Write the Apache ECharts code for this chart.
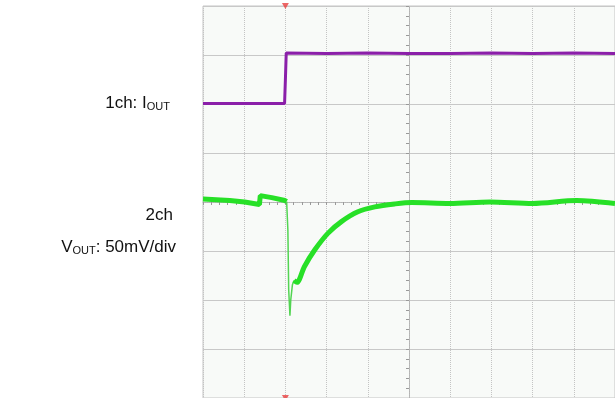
<!DOCTYPE html>
<html lang="en">
<head>
    <meta charset="UTF-8">
    <title>IOUT / VOUT transient</title>
    <style>
        html, body {
            margin: 0;
            padding: 0;
            width: 100%;
            height: 100%;
            background: #fff;
        }
        #scope {
            width: 615px;
            height: 398px;
        }
    </style>
</head>
<body>
<div id="scope"></div>
<script src="https://cdn.jsdelivr.net/npm/echarts@6/dist/echarts.min.js"></script>
<script type="text/javascript">
    // x in horizontal divisions (-5..5), y in vertical divisions (-4..4)
    var ch1Time = [-5, -4, -3.02, -3.0, -2.98, -2, -1, 0, 1, 2, 3, 4, 5];
    var ch1Level = [2.01, 2.01, 2.01, 2.5, 3.04, 3.03, 3.04, 3.03, 3.03, 3.04, 3.03, 3.04, 3.03];

    var ch2Time = [-5, -4.35, -3.99, -3.63, -3.61, -3.33, -3.01, -2.97];
    var ch2Level = [0.06, 0.03, 0.0, -0.05, 0.13, 0.09, 0.03, 0.01];

    var spikeTime = [-2.97, -2.94, -2.92, -2.89, -2.87, -2.83, -2.79];
    var spikeLevel = [0.01, -0.57, -1.79, -2.32, -2.0, -1.69, -1.6];

    var recTime = [-2.79, -2.72, -2.54, -2.29, -1.97, -1.64, -1.24, -0.83, -0.35, 0.07, 0.99, 1.96, 3.0, 4.07, 5];
    var recLevel = [-1.6, -1.64, -1.32, -0.98, -0.64, -0.4, -0.2, -0.1, -0.04, -0.01, -0.03, 0.0, -0.03, 0.03, -0.03];

    var trigTime = -3;

    function pairs(xs, ys) {
        var out = [];
        for (var i = 0; i < xs.length; i++) {
            out.push([xs[i], ys[i]]);
        }
        return out;
    }

    var labelFont = { fontFamily: 'Liberation Sans', fontSize: 17, fill: '#111' };
    var subFont = { fontFamily: 'Liberation Sans', fontSize: 11, fill: '#111', padding: [7, 0, 0, 0] };

    var myChart = echarts.init(document.getElementById('scope'));

    var option = {
        backgroundColor: '#ffffff',
        animation: false,
        grid: {
            left: 203,
            top: 6,
            width: 412,
            height: 393,
            show: true,
            backgroundColor: '#f8faf8',
            borderColor: '#c4c4c4',
            borderWidth: 1
        },
        xAxis: {
            type: 'value',
            min: -5,
            max: 5,
            interval: 1,
            axisLabel: { show: false },
            axisLine: { onZero: true, lineStyle: { color: '#b4b4b4', type: 'dotted', width: 1 } },
            axisTick: { show: true, length: 3, lineStyle: { color: '#999' } },
            minorTick: { show: true, splitNumber: 5, length: 3, lineStyle: { color: '#999' } },
            splitLine: { show: true, lineStyle: { color: '#c4c4c4', type: 'dotted', width: 1 } }
        },
        yAxis: {
            type: 'value',
            min: -4,
            max: 4,
            interval: 1,
            axisLabel: { show: false },
            axisLine: { onZero: true, lineStyle: { color: '#b4b4b4', type: 'dotted', width: 1 } },
            axisTick: { show: true, length: 3, lineStyle: { color: '#999' } },
            minorTick: { show: true, splitNumber: 5, length: 3, lineStyle: { color: '#999' } },
            splitLine: { show: true, lineStyle: { color: '#c8c8c8', type: 'solid', width: 1 } }
        },
        graphic: [
            {
                type: 'text',
                x: 170,
                y: 103,
                style: {
                    text: '{a|1ch: I}{s|OUT}',
                    align: 'right',
                    verticalAlign: 'middle',
                    rich: { a: labelFont, s: subFont }
                }
            },
            {
                type: 'text',
                x: 173,
                y: 215,
                style: {
                    text: '{a|2ch}',
                    align: 'right',
                    verticalAlign: 'middle',
                    rich: { a: labelFont }
                }
            },
            {
                type: 'text',
                x: 176,
                y: 247,
                style: {
                    text: '{a|V}{s|OUT}{a|: 50mV/div}',
                    align: 'right',
                    verticalAlign: 'middle',
                    rich: { a: labelFont, s: subFont }
                }
            }
        ],
        series: [
            {
                name: 'ch1',
                type: 'line',
                data: pairs(ch1Time, ch1Level),
                symbol: 'none',
                lineStyle: { color: '#8b1fa9', width: 3 },
                z: 3
            },
            {
                name: 'ch2',
                type: 'line',
                data: pairs(ch2Time, ch2Level),
                symbol: 'none',
                lineStyle: { color: '#27e027', width: 5 },
                z: 4
            },
            {
                name: 'ch2 spike',
                type: 'line',
                data: pairs(spikeTime, spikeLevel),
                symbol: 'none',
                lineStyle: { color: '#52d452', width: 1.5 },
                z: 4
            },
            {
                name: 'ch2 recovery',
                type: 'line',
                data: pairs(recTime, recLevel),
                symbol: 'none',
                smooth: 0.3,
                lineStyle: { color: '#27e027', width: 5 },
                z: 4
            },
            {
                name: 'trigger',
                type: 'scatter',
                data: [[trigTime, 4], [trigTime, -4]],
                symbol: 'triangle',
                symbolRotate: 180,
                symbolSize: [7, 6],
                itemStyle: { color: '#e84040' },
                z: 5
            }
        ]
    };

    myChart.setOption(option);
</script>
</body>
</html>
